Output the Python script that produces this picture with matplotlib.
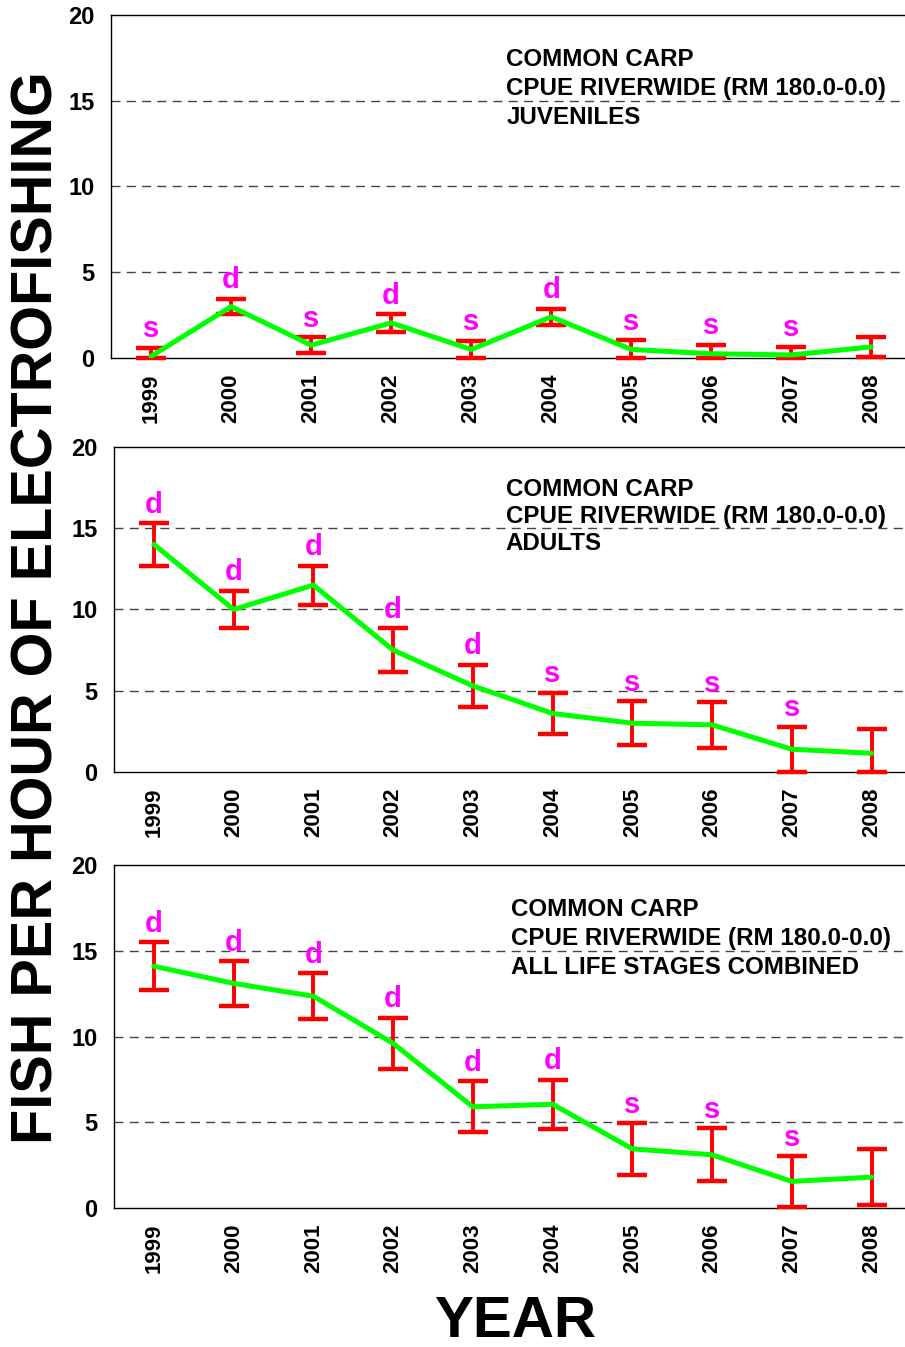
import matplotlib
matplotlib.use("Agg")
import matplotlib.pyplot as plt
import numpy as np

plt.rcParams['font.family'] = ['Liberation Sans', 'DejaVu Sans']
plt.rcParams['font.weight'] = 'bold'

years = ['1999', '2000', '2001', '2002', '2003', '2004', '2005', '2006', '2007', '2008']

juv_mean = [0.1, 3.0, 0.75, 2.05, 0.5, 2.4, 0.5, 0.25, 0.18, 0.65]
juv_err = [0.5, 0.45, 0.47, 0.52, 0.5, 0.48, 0.53, 0.52, 0.48, 0.58]
juv_sig = ['s', 'd', 's', 'd', 's', 'd', 's', 's', 's', '']

adult_mean = [14.0, 10.0, 11.5, 7.5, 5.3, 3.6, 3.0, 2.9, 1.4, 1.15]
adult_err = [1.3, 1.15, 1.2, 1.35, 1.3, 1.28, 1.35, 1.4, 1.38, 1.5]
adult_sig = ['d', 'd', 'd', 'd', 'd', 's', 's', 's', 's', '']

all_mean = [14.1, 13.1, 12.35, 9.6, 5.9, 6.05, 3.45, 3.1, 1.55, 1.8]
all_err = [1.4, 1.3, 1.33, 1.5, 1.48, 1.43, 1.5, 1.55, 1.47, 1.65]
all_sig = ['d', 'd', 'd', 'd', 'd', 'd', 's', 's', 's', '']

panels = [
    (juv_mean, juv_err, juv_sig, "JUVENILES", [0.1227, 0.7342, 0.8773, 0.2547], 4.44),
    (adult_mean, adult_err, adult_sig, "ADULTS", [0.1260, 0.4269, 0.8740, 0.2413], 4.41),
    (all_mean, all_err, all_sig, "ALL LIFE STAGES COMBINED", [0.1260, 0.1032, 0.8740, 0.2546], 4.48),
]

fig = plt.figure(figsize=(9.05, 13.47), dpi=100)

for mean, err, sig, stage, rect, tx in panels:
    ax = fig.add_axes(rect)
    x = np.arange(len(years))
    mean = np.array(mean)
    err = np.array(err)
    lower = np.minimum(err, mean)

    ax.errorbar(x, mean, yerr=[lower, err], fmt='none', ecolor='#FF0000',
                elinewidth=2.8, capsize=10.5, capthick=3.2, zorder=3, clip_on=False)
    ax.plot(x, mean, color='#00FF00', lw=3.6, zorder=4, solid_capstyle='round')

    for i, s in enumerate(sig):
        if s:
            ax.annotate(s, (x[i], mean[i] + err[i]), xytext=(0, 7.5),
                        textcoords='offset points', ha='center', va='baseline',
                        color='#FF00FF', fontsize=21, fontweight='bold')

    ax.set_xlim(-0.5, 9.42)
    ax.set_ylim(0, 20)
    ax.set_yticks([0, 5, 10, 15, 20])
    ax.set_xticks(x)
    ax.set_xticklabels(years, rotation=90, fontsize=16, fontweight='bold')
    ax.tick_params(axis='y', length=0, pad=12, labelsize=17)
    ax.tick_params(axis='x', length=0, pad=11)
    for t in ax.get_yticklabels():
        t.set_fontweight('bold')

    for v in [5, 10, 15]:
        ax.axhline(v, color='#444444', lw=1, ls=(0, (6.5, 4.5)), zorder=1)
    ax.spines['right'].set_visible(False)
    for side in ['left', 'top', 'bottom']:
        ax.spines[side].set_linewidth(1)
        ax.spines[side].set_color('black')

    ax.text(tx, 17.4, "COMMON CARP", fontsize=17.4, fontweight='bold', va='center', ha='left')
    ax.text(tx, 15.7, "CPUE RIVERWIDE (RM 180.0-0.0)", fontsize=17.4, fontweight='bold', va='center', ha='left')
    ax.text(tx, 14.05, stage, fontsize=17.4, fontweight='bold', va='center', ha='left')

fig.text(0.041, 0.549, "FISH PER HOUR OF ELECTROFISHING", rotation=90,
         fontsize=41.5, fontweight='bold', ha='center', va='center')
fig.text(0.569, 0.0186, "YEAR", fontsize=42, fontweight='bold', ha='center', va='center')

fig.savefig("out.png", dpi=100)
